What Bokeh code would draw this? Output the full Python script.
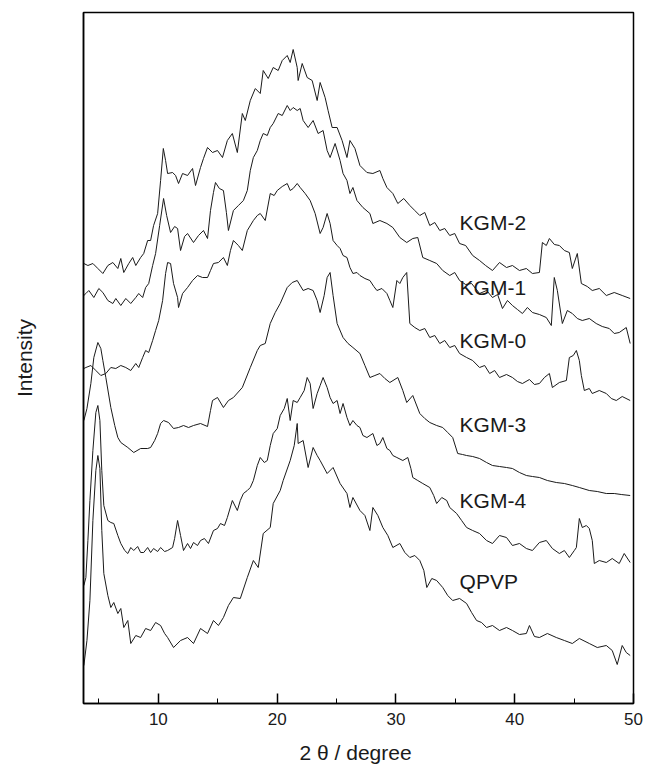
from bokeh.plotting import figure
from bokeh.models import SingleIntervalTicker, FixedTicker
from bokeh.core.properties import value
from bokeh.embed import file_html
from bokeh.resources import INLINE

# ---- data: 2-theta (degree) and intensity (a.u., stacked offsets included) ----
kgm2_x = [3.73,4.07,4.49,4.91,5.33,5.75,6.17,6.59,6.84,7.09,7.51,7.84,8.10,8.51,8.77,9.10,9.35,9.6,9.94,10.19,10.42,10.61,10.78,11.2,11.45,11.70,12.04,12.46,12.88,13.13,13.55,13.8,14.14,14.56,14.98,15.40,15.81,16.23,16.65,17.07,17.32,17.74,18.16,18.58,18.83,19.25,19.67,20.09,20.43,20.85,21.10,21.35,21.69,21.77,22.11,22.53,22.95,23.37,23.62,24.04,24.29,24.63,25.05,25.47,25.88,26.13,26.55,26.97,27.56,28.06,28.65,28.9,29.24,29.74,30.16,30.66,31.17,31.59,32.01,32.43,32.85,33.27,33.69,34.11,34.53,34.95,35.36,35.87,36.46,37.04,37.55,38.13,38.72,39.31,39.81,40.40,40.98,41.49,42.08,42.33,42.66,42.92,43.34,43.76,44.18,44.60,44.85,45.27,45.61,46.11,46.53,47.12,47.71,48.38,49.05,49.72]
kgm2_y = [440,438,440,435,430,438,441,435,445,431,440,446,438,446,450,463,463,478,490,523,555,543,530,531,528,520,530,528,535,518,536,545,556,551,553,546,563,570,551,590,583,603,615,610,633,625,636,633,643,648,641,654,636,623,640,626,623,603,621,606,593,576,576,563,546,563,555,538,531,530,533,525,516,510,500,505,498,493,488,491,478,481,473,475,468,470,460,458,448,443,438,433,441,436,438,433,435,430,431,461,458,465,459,458,453,451,435,450,420,417,413,415,408,411,408,405]

kgm1_x = [3.73,3.90,4.15,4.57,4.99,5.33,5.75,6.17,6.42,6.84,7.26,7.68,8.10,8.35,8.68,8.93,9.19,9.52,9.77,10.11,10.44,10.70,11.03,11.37,11.62,11.87,12.21,12.46,12.96,13.38,13.80,14.14,14.39,14.64,14.81,15.14,15.48,15.73,15.90,16.32,16.74,17.16,17.49,17.74,18.00,18.33,18.58,18.83,19.17,19.42,19.67,20.09,20.43,20.85,21.10,21.35,21.69,21.94,22.19,22.61,23.03,23.45,23.87,24.21,24.46,24.88,25.30,25.55,25.88,26.13,26.38,26.72,27.22,27.81,28.06,28.65,29.24,29.74,30.33,30.91,31.42,31.84,32.26,32.85,33.43,33.94,34.53,34.95,35.36,35.87,36.37,37.04,37.63,38.13,38.56,38.97,39.39,39.81,40.23,40.65,41.07,41.49,42.08,42.66,43.08,43.33,43.59,44.01,44.43,44.85,45.27,45.69,46.28,46.86,47.37,47.96,48.38,48.80,49.39,49.72]
kgm1_y = [408,410,413,406,415,411,403,400,405,398,405,400,406,410,406,416,420,438,450,478,505,488,471,477,475,453,467,470,461,468,473,465,493,511,521,515,513,491,473,493,498,503,513,533,546,553,563,570,568,576,580,590,588,598,593,596,593,595,583,576,583,570,573,553,546,560,543,530,523,510,516,503,496,490,480,483,480,476,466,461,465,466,446,443,440,433,428,431,423,419,420,410,413,406,409,395,403,398,394,390,396,391,389,386,378,426,413,380,393,390,385,383,385,380,377,375,370,371,376,360]

kgm0_x = [3.73,3.90,4.32,4.74,5.16,5.58,6.00,6.42,6.84,7.26,7.68,8.10,8.35,8.68,8.93,9.19,9.52,9.77,10.03,10.36,10.61,10.78,11.03,11.28,11.62,11.70,12.04,12.46,12.88,13.30,13.72,14.14,14.39,14.64,15.06,15.48,15.81,16.07,16.32,16.74,17.07,17.49,18.00,18.33,18.58,19.00,19.42,19.75,20.01,20.43,20.85,21.10,21.35,21.69,21.94,22.36,22.78,23.20,23.62,23.87,24.21,24.46,24.71,25.05,25.30,25.55,25.88,26.13,26.38,26.72,26.97,27.39,27.81,28.14,28.40,28.82,29.24,29.49,29.74,30.08,30.33,30.58,30.91,31.17,31.59,32.01,32.43,32.85,33.27,33.69,34.11,34.53,34.95,35.36,35.95,36.46,37.04,37.47,37.89,38.31,38.72,39.31,39.81,40.23,40.65,41.24,41.66,42.08,42.50,42.92,43.17,43.76,44.35,44.60,44.93,45.19,45.44,45.61,45.86,46.28,46.53,47.12,47.71,48.13,48.55,49.05,49.72]
kgm0_y = [335,336,338,333,328,330,336,335,338,336,333,340,336,346,353,351,363,373,383,403,430,441,440,420,406,396,410,416,423,428,426,426,433,440,441,446,438,453,463,458,453,473,483,488,490,483,510,508,513,517,520,513,515,520,516,510,503,490,470,476,490,480,463,458,455,448,446,436,430,431,428,425,423,417,413,415,410,403,396,423,420,426,431,380,376,373,375,366,368,360,363,356,358,350,346,343,336,338,330,333,326,329,326,322,320,324,319,320,326,330,316,321,323,346,348,353,343,328,313,315,310,313,310,305,303,307,303]

kgm3_x = [3.73,3.99,4.32,4.57,4.91,5.16,5.33,5.58,6.00,6.33,6.59,6.84,7.43,7.93,8.51,9.10,9.35,9.69,9.94,10.19,10.44,10.86,11.28,11.70,12.12,12.54,12.96,13.55,14.14,14.39,14.56,14.98,15.48,15.90,16.32,17.07,17.74,18.33,18.58,19.00,19.42,19.84,20.26,20.85,21.27,21.69,22.19,22.61,23.03,23.37,23.62,23.96,24.21,24.46,24.71,25.05,25.55,25.97,26.38,26.97,27.39,27.81,28.23,28.65,29.07,29.49,30.16,30.58,30.91,31.42,32.01,32.43,32.85,33.43,33.94,34.36,34.78,35.20,35.61,35.95,36.46,37.04,37.63,38.13,38.72,39.31,39.81,40.40,40.98,41.49,42.08,42.75,43.50,44.18,44.85,45.44,46.28,46.95,47.71,48.38,48.97,49.72]
kgm3_y = [283,295,320,346,361,355,343,326,296,278,266,261,256,251,255,255,256,263,270,280,283,281,275,276,278,276,278,280,277,293,303,306,296,303,306,316,336,353,358,360,380,391,400,416,421,423,413,415,413,403,391,408,426,431,408,380,366,360,356,350,338,326,328,330,325,321,326,313,301,308,290,285,281,278,276,271,266,250,249,248,247,245,241,238,237,236,235,231,228,227,226,223,221,220,218,216,213,212,210,210,209,208]

kgm4_x = [3.73,3.90,4.07,4.24,4.49,4.74,4.91,5.08,5.24,5.41,5.75,6.00,6.25,6.59,6.84,7.17,7.43,7.68,7.93,8.26,8.51,8.77,9.10,9.35,9.60,9.94,10.19,10.53,10.78,11.20,11.37,11.62,11.87,12.12,12.46,12.71,12.96,13.30,13.55,13.88,14.22,14.64,14.98,15.23,15.57,15.81,16.23,16.65,16.90,17.16,17.49,17.74,18.00,18.33,18.58,18.92,19.17,19.42,19.67,20.01,20.26,20.60,20.85,21.10,21.35,21.69,21.94,22.28,22.53,22.78,23.03,23.37,23.62,23.87,24.21,24.46,24.71,25.05,25.30,25.55,25.88,26.13,26.38,26.72,26.97,27.22,27.56,28.06,28.40,28.65,28.90,29.24,29.49,29.74,30.08,30.58,31.00,31.26,31.42,31.84,32.26,32.85,33.18,33.43,33.86,34.28,34.53,35.11,35.53,35.95,36.46,37.04,37.63,38.13,38.72,39.31,39.81,40.40,40.98,41.49,42.08,42.66,43.17,43.76,44.18,44.60,45.02,45.19,45.44,45.69,46.03,46.28,46.53,46.70,47.12,47.71,48.21,48.80,49.22,49.72]
kgm4_y = [118,126,163,203,253,291,298,283,233,198,183,181,180,168,160,153,150,156,153,157,151,151,156,151,155,152,156,152,153,156,165,183,168,153,160,155,161,158,163,165,160,173,175,180,178,186,203,193,203,210,213,216,223,238,246,241,243,258,270,275,288,295,305,283,303,301,306,313,326,320,295,310,318,326,316,306,300,303,290,300,286,278,283,278,276,268,266,270,258,260,266,255,253,248,246,243,246,235,226,223,220,216,208,200,206,203,196,190,183,176,173,170,163,160,168,166,158,160,155,153,161,163,155,150,153,146,153,156,185,176,178,175,163,140,143,141,145,140,150,141]

qpvp_x = [3.73,3.99,4.24,4.49,4.74,4.91,5.08,5.24,5.41,5.75,6.00,6.25,6.59,6.84,7.09,7.43,7.68,8.10,8.51,8.93,9.35,9.77,10.19,10.53,10.78,11.28,11.87,12.46,12.96,13.55,14.14,14.64,15.06,15.48,15.90,16.32,16.90,17.49,18.00,18.41,18.83,19.42,19.67,20.26,20.51,21.10,21.44,21.69,21.77,22.19,22.61,23.03,23.37,23.62,24.21,24.71,25.30,25.88,26.13,26.38,26.97,27.39,27.81,28.06,28.48,28.90,29.32,29.74,30.33,30.75,31.17,31.59,32.01,32.35,32.60,33.02,33.43,33.94,34.36,34.78,35.36,35.95,36.37,36.79,37.21,37.63,38.13,38.72,39.31,39.81,40.40,40.98,41.24,41.66,42.08,42.75,43.50,44.18,44.85,45.44,46.28,46.95,47.71,48.21,48.63,49.05,49.39,49.72]
qpvp_y = [38,63,103,183,233,248,235,173,130,108,96,101,90,95,76,83,60,68,66,75,73,81,78,70,66,56,63,66,60,75,70,83,78,86,98,106,105,126,143,136,170,176,200,213,223,243,258,280,260,263,236,256,248,243,230,236,220,210,196,206,193,188,173,196,188,176,168,156,160,151,146,148,143,133,116,125,123,116,108,103,105,100,91,83,81,76,78,73,76,73,69,70,78,67,66,70,66,63,60,65,60,56,58,53,39,58,51,48]

series_names = ["KGM-2", "KGM-1", "KGM-0", "KGM-3", "KGM-4", "QPVP"]

FONT = "Liberation Sans"

p = figure(width=645, height=767, x_range=(3.7, 50.0), y_range=(0, 691),
           output_backend="svg", toolbar_location=None,
           min_border_left=83, min_border_right=12, min_border_top=12, min_border_bottom=64)

p.xgrid.visible = False
p.ygrid.visible = False
p.outline_line_color = "black"
p.outline_line_width = 1.5
p.background_fill_color = "white"
p.border_fill_color = "white"

series = [(kgm2_x, kgm2_y), (kgm1_x, kgm1_y), (kgm0_x, kgm0_y),
          (kgm3_x, kgm3_y), (kgm4_x, kgm4_y), (qpvp_x, qpvp_y)]
for xs, ys in series:
    p.line(xs, ys, line_color="#1a1a1a", line_width=1)

# curve labels
label_x = [35.36] * 6
label_y = [481, 416, 363, 279, 203, 122]
p.text(x=label_x, y=label_y, text=series_names, text_font=value(FONT),
       text_font_size="21px", text_baseline="middle", text_align="left",
       text_color="#1a1a1a")

xa = p.xaxis[0]
xa.ticker = SingleIntervalTicker(interval=10, num_minor_ticks=2)
xa.major_tick_in = 10
xa.major_tick_out = 0
xa.minor_tick_in = 5
xa.minor_tick_out = 0
xa.major_tick_line_color = "black"
xa.minor_tick_line_color = "black"
xa.major_tick_line_width = 1.5
xa.axis_line_color = "black"
xa.axis_line_width = 1.5
xa.major_label_text_font = FONT
xa.major_label_text_font_size = "17px"
xa.major_label_text_color = "#1a1a1a"
xa.major_label_standoff = 9
xa.axis_label = "2 θ  / degree"
xa.axis_label_text_font = FONT
xa.axis_label_text_font_size = "21px"
xa.axis_label_text_font_style = "normal"
xa.axis_label_text_color = "#1a1a1a"
xa.axis_label_standoff = 13

ya = p.yaxis[0]
ya.ticker = FixedTicker(ticks=[])
ya.major_tick_out = 0
ya.major_tick_in = 0
ya.minor_tick_out = 0
ya.major_label_text_font_size = "0px"
ya.axis_line_color = "black"
ya.axis_line_width = 1.5
ya.axis_label = "Intensity"
ya.axis_label_text_font = FONT
ya.axis_label_text_font_size = "21px"
ya.axis_label_text_font_style = "normal"
ya.axis_label_text_color = "#1a1a1a"
ya.axis_label_standoff = 48

open("out.html", "w").write(file_html(p, INLINE))
